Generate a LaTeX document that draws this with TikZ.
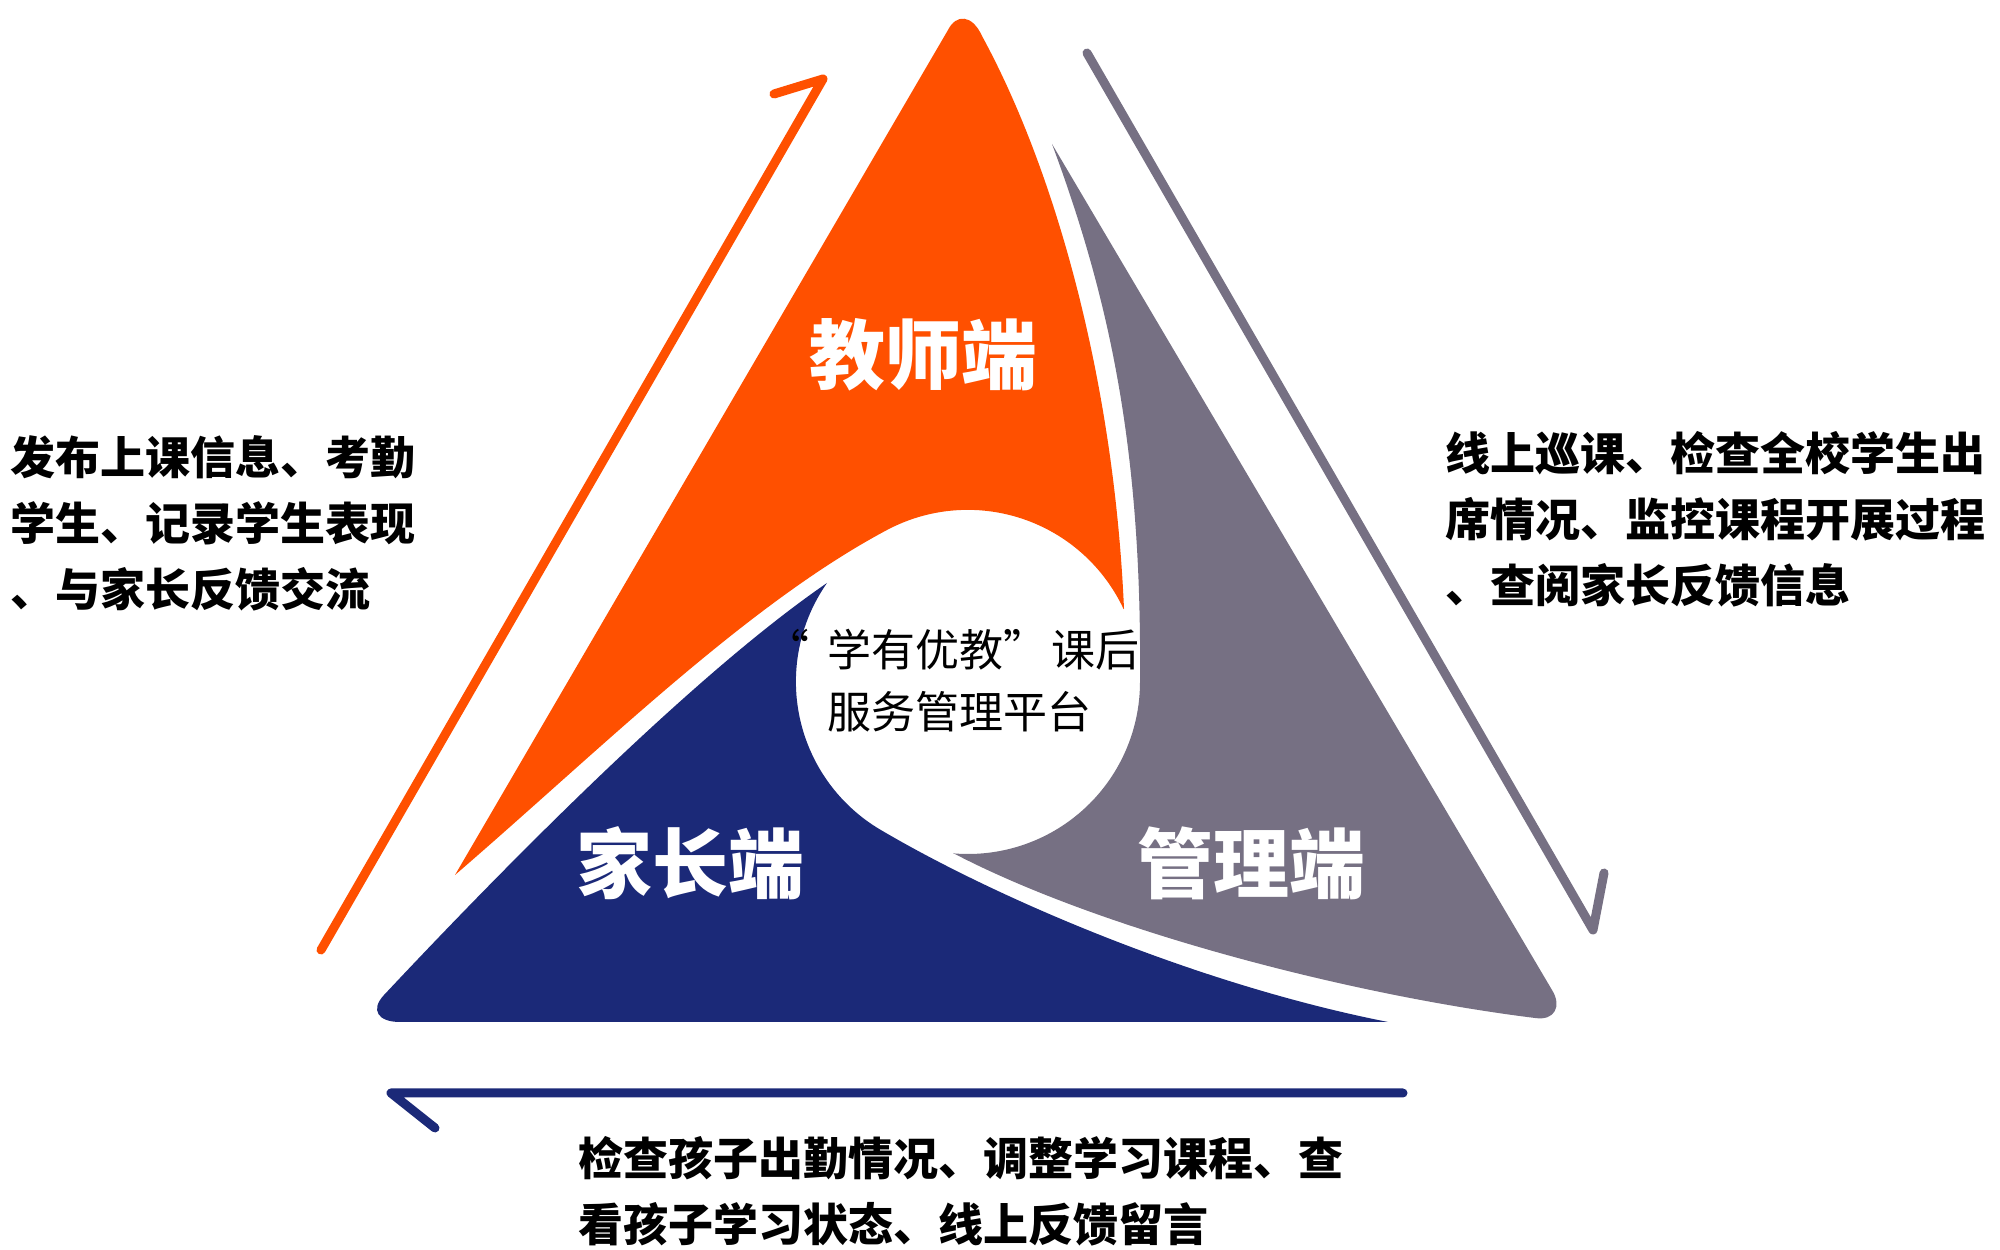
\documentclass[tikz,border=0pt]{standalone}
\usepackage{fontspec}
\setmainfont{Noto Sans CJK SC}
\definecolor{orng}{HTML}{FF5000}
\definecolor{blu}{HTML}{1B2978}
\definecolor{gry}{HTML}{767083}
\tikzset{
  lbl/.style={text=white, font=\fontsize{76}{80}\selectfont\bfseries, inner sep=0pt},
  desc/.style={anchor=west, align=left, inner sep=0pt, font=\fontsize{45}{66}\selectfont\bfseries},
  arr/.style={line width=9pt, line cap=round, line join=round}
}
\begin{document}
\begin{tikzpicture}[x=1pt,y=1pt]
\useasboundingbox (0,0) rectangle (2000,1250);
% orange (teacher)
\fill[orng] (1124,641) .. controls (1114,870) and (1055,1080) .. (982,1214)
  .. controls (972,1236) and (956,1236) .. (948,1220) -- (455,375)
  .. controls (600,500) and (746,645) .. (887,720)
  arc[start angle=118,end angle=25,radius=172pt] -- cycle;
% blue (parents)
\fill[blu] (827,667) arc[start angle=145,end angle=240,radius=172pt]
  .. controls (1000,350) and (1200,265) .. (1388,228) -- (400,228)
  .. controls (378,228) and (370,240) .. (384,255)
  .. controls (520,400) and (700,580) .. (827,667) -- cycle;
% gray (management)
\fill[gry] (953,397) .. controls (1100,320) and (1350,255) .. (1535,232)
  .. controls (1555,229) and (1562,244) .. (1552,260) -- (1052,1106)
  .. controls (1110,950) and (1142,800) .. (1140,568)
  arc[start angle=0,end angle=-95,radius=172pt] -- cycle;
% arrows
\coordinate (oa1) at (321,300);
\coordinate (oa2) at (823,1171);
\coordinate (oa3) at (774,1156);
\draw[arr, orng] (oa1) -- (oa2) -- (oa3);
\coordinate (ga1) at (1087,1197);
\coordinate (ga2) at (1593,320);
\coordinate (ga3) at (1604,377);
\draw[arr, gry] (ga1) -- (ga2) -- (ga3);
\coordinate (ba1) at (1403,157);
\coordinate (ba2) at (391,157);
\coordinate (ba3) at (435,122);
\draw[arr, blu] (ba1) -- (ba2) -- (ba3);
% labels
\node[lbl] (t1) at (923,895) {教师端};
\node[lbl] (t2) at (690,387) {家长端};
\node[lbl] (t3) at (1251,387) {管理端};
\node[anchor=west, align=left, inner sep=0pt, font=\fontsize{44}{62}\selectfont] (ctr) at (827,569)
  {\llap{“\hspace{18pt}}学有优教”\hspace{0.1em}课后\\服务管理平台};
\node[desc] (lt) at (10,727) {发布上课信息、考勤\\学生、记录学生表现\\、与家长反馈交流};
\node[desc] (rt) at (1445,731) {线上巡课、检查全校学生出\\席情况、监控课程开展过程\\、查阅家长反馈信息};
\node[desc] (bt) at (578,59) {检查孩子出勤情况、调整学习课程、查\\看孩子学习状态、线上反馈留言};
\end{tikzpicture}
\end{document}
